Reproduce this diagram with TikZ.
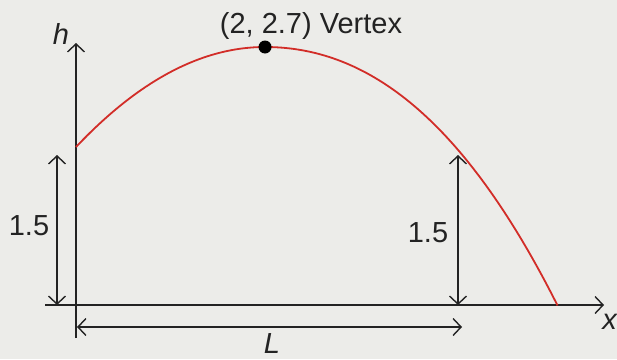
\documentclass[tikz,border=0pt]{standalone}
\usepackage{fontspec}
\setmainfont{Liberation Sans}
\usetikzlibrary{arrows.meta}
\definecolor{ink}{RGB}{35,35,35}
\definecolor{curvered}{RGB}{210,45,40}
\definecolor{paper}{RGB}{236,236,233}
\begin{document}
\begin{tikzpicture}[x=1pt,y=-1pt,
  barb/.tip={Straight Barb[length=8pt,width=17pt,line width=1.4pt]},
  axis/.style={draw=ink, line width=1.4pt, -barb},
  dim/.style={draw=ink, line width=1.3pt, barb-barb},
  lbl/.style={text=ink, font=\fontsize{29}{34}\selectfont, inner sep=0pt}]
\fill[paper] (0,0) rectangle (617,359);
\useasboundingbox (0,0) rectangle (617,359);
% axes
\coordinate (ybot) at (76,338);
\coordinate (ytop) at (76,43);
\coordinate (xleft) at (45,305);
\coordinate (xright) at (604,305);
\draw[axis] (ybot) -- (ytop);
\draw[axis] (xleft) -- (xright);
% curve
\draw[curvered, line width=1.8pt, line join=round]
  plot[domain=-1.89:0, samples=50] ({265+100*\x},{47+28*\x*\x})
  -- plot[domain=0:2.925, samples=70] ({265+100*\x},{47+22.6*\x*\x+2.6*\x*\x*\x});
\node[circle, fill=black, minimum size=13pt, inner sep=0pt] (vtx) at (265,47) {};
\node[lbl, anchor=base] (vlbl) at (311,33) {(2, 2.7) Vertex};
% dimension arrows
\coordinate (l1t) at (57,155);
\coordinate (l1b) at (57,305);
\draw[dim] (l1b) -- (l1t);
\coordinate (r1t) at (458,155);
\coordinate (r1b) at (458,305);
\draw[dim] (r1b) -- (r1t);
\coordinate (La) at (77,327);
\coordinate (Lb) at (462,327);
\draw[dim] (La) -- (Lb);
% labels
\node[lbl] (hlbl) at (61,34) {\textit{h}};
\node[lbl] (xlbl) at (610,322) {\textit{x}};
\node[lbl] (Llbl) at (272,344) {\textit{L}};
\node[lbl] (left15) at (29,226) {1.5};
\node[lbl] (right15) at (428,233) {1.5};
\end{tikzpicture}
\end{document}
